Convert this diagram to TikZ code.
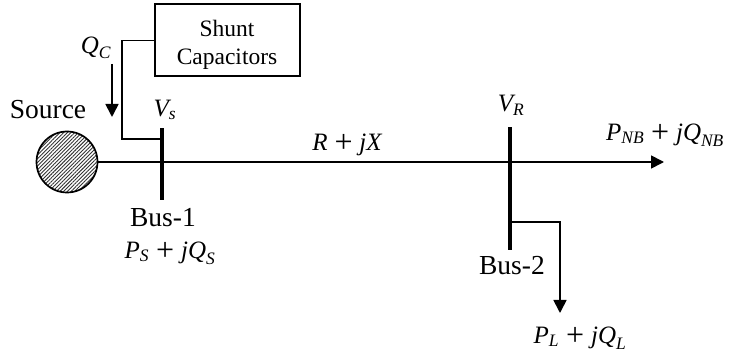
\documentclass[tikz,border=0pt]{standalone}
\usepackage{amsmath}
\usepackage{fontspec}
\setmainfont{Liberation Serif}
\usetikzlibrary{arrows.meta,patterns.meta}

\newcommand{\mv}[1]{\text{\itshape #1}}
\newcommand{\pl}{\mkern1mu\mathbin{\raisebox{-2pt}{\fontsize{32}{32}\selectfont +}}\mkern1mu}

\tikzset{
  lbl/.style={inner sep=0pt,font=\fontsize{23.5}{28}\selectfont},
  src/.style={lbl,font=\fontsize{27.5}{30}\selectfont},
  eqn/.style={inner sep=0pt,font=\fontsize{25}{28}\selectfont},
  bus/.style={fill=black,inner sep=0pt,minimum width=3.2pt},
  wire/.style={line width=1.7pt},
  flow/.style={wire,-{Triangle[length=13pt,width=13pt]}}
}

\begin{document}
\begin{tikzpicture}[x=1pt,y=-1pt]
\useasboundingbox (0,0) rectangle (729,358);
% source and the two buses
\node[circle,draw,line width=1.7pt,minimum size=61pt,inner sep=0pt,
  pattern={Lines[angle=45,distance=2.6pt,line width=.9pt]},pattern color=black!80] (gen) at (67,162) {};
\node[bus,minimum height=72pt] (bus1) at (162,164) {};
\node[bus,minimum height=123pt] (bus2) at (510,188.5) {};
\node[draw,lbl,line width=2pt,minimum width=145pt,minimum height=72pt,align=center] (cap) at (227,40.5) {\rule{0pt}{26pt}Shunt\\Capacitors};
% free ends
\coordinate (jct) at (510,162);
\coordinate (nb) at (664,162);
\coordinate (tapa) at (122,139);
\coordinate (tapb) at (162,139);
\coordinate (loadt) at (510,222);
\coordinate (loadc) at (560,222);
\coordinate (load) at (560,313);
\coordinate (qa) at (112,64);
\coordinate (qb) at (112,117);
% connectors
\draw[wire] (gen.east) -- (jct);
\draw[flow] (jct) -- (nb);
\draw[wire] (cap.west) -| (tapa) -- (tapb);
\draw[flow] (loadt) -- (loadc) -- (load);
\draw[flow] (qa) -- (qb);
% labels
\node[src] (srclbl) at (48,110) {Source};
\node[src] (b1lbl) at (163,218) {Bus-1};
\node[src] (b2lbl) at (512,266) {Bus-2};
\node[eqn] (qc) at (96,48) {$\mv{Q}_{\mv{C}}$};
\node[eqn] (vs) at (165,110) {$\mv{V}_{\mv{s}}$};
\node[eqn] (vr) at (511,105) {$\mv{V}_{\mv{R}}$};
\node[eqn] (line) at (347,145) {$\mv{R}\pl\mv{jX}$};
\node[eqn] (ps) at (170,253) {$\mv{P}_{\mv{S}}\pl\mv{jQ}_{\mv{S}}$};
\node[eqn] (pload) at (580,338) {$\mv{P}_{\mv{L}}\pl\mv{jQ}_{\mv{L}}$};
\node[eqn] (pnb) at (665,135) {$\mv{P}_{\mv{NB}}\pl\mv{jQ}_{\mv{NB}}$};
\end{tikzpicture}
\end{document}
